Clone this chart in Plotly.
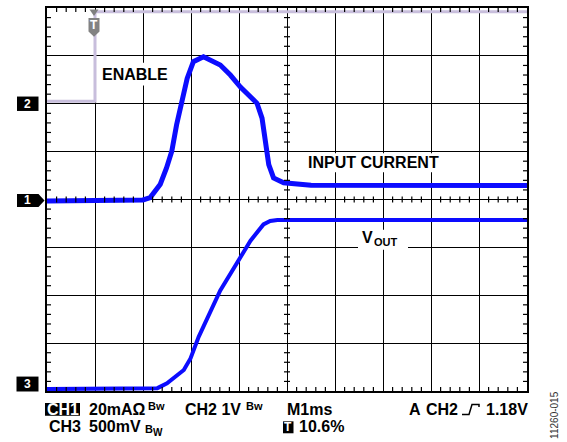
import plotly.graph_objects as go

# ---------------- data (divisions: x 0..10, y 0..8) ----------------
cur_t = [0, 1.5, 2.0, 2.15, 2.21, 2.36, 2.49, 2.6, 2.7, 2.81, 2.92, 3.05, 3.26,
         3.61, 3.82, 4.03, 4.24, 4.375, 4.48, 4.55, 4.62, 4.72, 4.93, 5.5, 10]
cur_v = [3.97, 3.97, 3.99, 4.04, 4.11, 4.32, 4.66, 5.01, 5.56, 6.05, 6.53, 6.88, 6.98,
         6.81, 6.6, 6.35, 6.15, 6.01, 5.7, 5.22, 4.73, 4.45, 4.35, 4.3, 4.29]

vout_t = [0, 2.3, 2.5, 2.85, 2.99, 3.16, 3.61, 3.99, 4.24, 4.51, 4.65, 4.8, 5.0, 10]
vout_v = [0.04, 0.06, 0.16, 0.44, 0.68, 1.13, 2.1, 2.72, 3.14, 3.48, 3.55, 3.57, 3.57, 3.57]

en_t = [0, 1.0, 1.0, 10]
en_v = [6.05, 6.05, 7.92, 7.92]

BLUE = "#0c0cff"
LAV = "#c8bedc"
FONT = "Liberation Sans, Arial, sans-serif"

W, H = 567, 442
L, R, T, B = 47, 527, 6, 391
def PX(x): return (x - L) / (R - L)
def PY(y): return (B - y) / (B - T)

fig = go.Figure()
fig.add_trace(go.Scatter(x=en_t, y=en_v, mode="lines", line=dict(color=LAV, width=3),
                         hoverinfo="skip", showlegend=False))
fig.add_trace(go.Scatter(x=cur_t, y=cur_v, mode="lines", line=dict(color=BLUE, width=5),
                         hoverinfo="skip", showlegend=False))
fig.add_trace(go.Scatter(x=vout_t, y=vout_v, mode="lines", line=dict(color=BLUE, width=4),
                         hoverinfo="skip", showlegend=False))

shapes = []
dx = 1 / 48.0
dy = 1 / 48.125
tk = dict(color="black", width=1.2)
for i in range(1, 50):
    x = i * 0.2
    if abs(x - round(x)) < 1e-6:
        continue
    shapes.append(dict(type="line", xref="x", yref="y", x0=x, x1=x, y0=8, y1=8 - 4 * dy, line=tk))
    shapes.append(dict(type="line", xref="x", yref="y", x0=x, x1=x, y0=0, y1=4 * dy, line=tk))
    shapes.append(dict(type="line", xref="x", yref="y", x0=x, x1=x, y0=4 - 3 * dy, y1=4 + 3 * dy, line=tk))
for i in range(1, 40):
    y = i * 0.2
    if abs(y - round(y)) < 1e-6:
        continue
    shapes.append(dict(type="line", xref="x", yref="y", y0=y, y1=y, x0=0, x1=4 * dx, line=tk))
    shapes.append(dict(type="line", xref="x", yref="y", y0=y, y1=y, x0=10, x1=10 - 4 * dx, line=tk))
    shapes.append(dict(type="line", xref="x", yref="y", y0=y, y1=y, x0=5 - 3 * dx, x1=5 + 3 * dx, line=tk))

def path(pts, close=True):
    return "M " + " L ".join(f"{PX(a):.5f},{PY(b):.5f}" for a, b in pts) + (" Z" if close else "")

def box(pts, color="black"):
    shapes.append(dict(type="path", xref="paper", yref="paper", layer="above",
                       path=path(pts), fillcolor=color, line=dict(width=0)))

# white backgrounds behind in-plot labels (they hide the grid)
box([(101, 61), (169, 61), (169, 84), (101, 84)], "white")
box([(306, 152), (440, 152), (440, 171), (306, 171)], "white")
box([(358, 229), (408, 229), (408, 249), (358, 249)], "white")
# channel markers
box([(17, 95), (38.5, 95), (38.5, 109.5), (17, 109.5)])
box([(17, 193), (38.5, 193), (44.5, 199.5), (38.5, 206), (17, 206)])
box([(16.5, 376.5), (38.5, 376.5), (38.5, 391.5), (16.5, 391.5)])
# trigger marker
box([(89.5, 7.5), (98.5, 7.5), (94, 14)], "#7f7f7f")
box([(88.5, 16), (99.5, 16), (99.5, 29.5), (94, 35), (88.5, 29.5)], "#828282")
# inverted boxes in the status lines
box([(45, 403), (80, 403), (80, 416), (45, 416)])
box([(283, 421.5), (293.5, 421.5), (293.5, 433.5), (283, 433.5)])
# trigger slope symbol
shapes.append(dict(type="path", xref="paper", yref="paper", layer="above",
                   path=path([(462, 414.5), (469, 414.5), (472, 404.5), (479, 404.5), (479, 407)], close=False),
                   line=dict(color="black", width=1.5)))

ann = []
def A(text, x, y, size=16, color="black", xanchor="left", angle=0, bold=True):
    ann.append(dict(text=(f"<b>{text}</b>" if bold else text), x=PX(x), y=PY(y), xref="paper", yref="paper",
                    xanchor=xanchor, yanchor="middle", showarrow=False, textangle=angle,
                    font=dict(family=FONT, size=size, color=color)))

# in-plot labels
A("ENABLE", 135, 72.5, xanchor="center")
A("INPUT CURRENT", 373, 161.5, xanchor="center")
A("V", 367.5, 237, xanchor="center")
A("OUT", 386, 241, size=11, xanchor="center")
# channel numbers
A("2", 27.7, 102.3, size=12, color="white", xanchor="center")
A("1", 27.7, 199.5, size=12, color="white", xanchor="center")
A("3", 27.5, 384, size=12, color="white", xanchor="center")
A("T", 94, 23.5, size=12, color="white", xanchor="center")
# bottom status lines
A("CH1", 62.5, 409.5, color="white", xanchor="center")
A("20mAΩ", 87, 409.5)
A("Bw", 146, 406.5, size=11)
A("CH2 1V", 183, 409.5)
A("Bw", 244, 406.5, size=11)
A("M1ms", 285, 409.5)
A("A", 407, 409.5)
A("CH2", 424, 409.5)
A("1.18V", 529.5, 409.5, xanchor="right")
A("CH3", 46.5, 426.5)
A("500mV", 87, 426.5)
A("B", 143, 429.5, size=11)
A("W", 151, 432.5, size=10)
A("T", 288.3, 427.5, size=12, color="white", xanchor="center")
A("10.6%", 297, 426.5)
A("11260-015", 555, 415, size=10, color="#333333", xanchor="center", angle=-90, bold=False)

ax = dict(showgrid=True, gridcolor="black", gridwidth=1.3, zeroline=False, showticklabels=False,
          ticks="", showline=True, mirror=True, linecolor="black", linewidth=2, fixedrange=True)
fig.update_layout(
    width=W, height=H, margin=dict(l=L, r=W - R, t=T, b=H - B, pad=0),
    paper_bgcolor="white", plot_bgcolor="white",
    xaxis=dict(range=[0, 10], dtick=1, **ax),
    yaxis=dict(range=[0, 8], dtick=1, **ax),
    shapes=shapes, annotations=ann, showlegend=False,
)
fig.write_html("out.html", config={"displayModeBar": False})

# remove default page margin so the figure sits at the window's top-left corner
with open("out.html", encoding="utf-8") as f:
    html = f.read()
html = html.replace("<head>", "<head><style>html,body{margin:0;padding:0;overflow:hidden}</style>", 1)
with open("out.html", "w", encoding="utf-8") as f:
    f.write(html)
